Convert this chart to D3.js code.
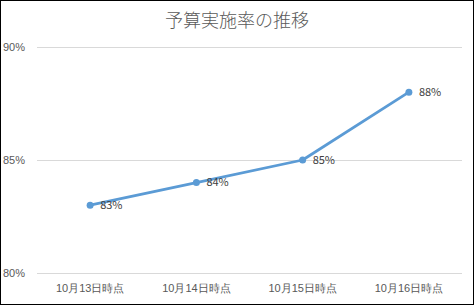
<!DOCTYPE html>
<html><head><meta charset="utf-8">
<script src="https://cdn.jsdelivr.net/npm/d3@7"></script>
<style>
html,body{margin:0;padding:0;background:#fff;}
svg{display:block;font-family:"Noto Sans CJK JP","Noto Sans",sans-serif;}
</style></head>
<body>
<script>
const categories = ["10月13日時点","10月14日時点","10月15日時点","10月16日時点"];
const values = [0.83, 0.84, 0.85, 0.88];
const yTicks = [0.80, 0.85, 0.90];
const title = "予算実施率の推移";

const W = 474, H = 305;
const svg = d3.select("body").append("svg").attr("width", W).attr("height", H);
svg.append("rect").attr("x",0.5).attr("y",0.5).attr("width",W-1).attr("height",H-1)
  .attr("fill","#fff").attr("stroke","#000").attr("stroke-width",1);

const x = d3.scaleBand().domain(categories).range([37, 462]);
const y = d3.scaleLinear().domain([0.80, 0.90]).range([273, 47]);

svg.append("text").attr("x", 237).attr("y", 27).attr("text-anchor","middle")
  .attr("font-size", 18).attr("fill","#595959").attr("font-weight", 300).text(title);

const grid = svg.append("g");
grid.selectAll("line").data(yTicks).join("line")
  .attr("x1", 37).attr("x2", 462)
  .attr("y1", d => Math.round(y(d)) + 0.5).attr("y2", d => Math.round(y(d)) + 0.5)
  .attr("stroke", "#d9d9d9").attr("stroke-width", 1);

const yAxis = d3.axisLeft(y).tickValues(yTicks).tickFormat(d3.format(".0%")).tickSize(0).tickPadding(0);
const ya = svg.append("g").attr("transform","translate(25,0)").call(yAxis);
ya.select(".domain").remove();
ya.selectAll("text").attr("font-size", 11).attr("fill","#595959").attr("font-family","inherit");

const xAxis = d3.axisBottom(x).tickSize(0).tickPadding(0);
const xa = svg.append("g").attr("transform","translate(0,284)").call(xAxis);
xa.select(".domain").remove();
xa.selectAll("text").attr("font-size", 11).attr("fill","#595959").attr("font-family","inherit");

const cx = d => x(d) + x.bandwidth()/2;
const line = d3.line().x((d,i) => cx(categories[i])).y(d => y(d));
svg.append("path").datum(values).attr("d", line).attr("fill","none")
  .attr("stroke","#5B9BD5").attr("stroke-width",2.75).attr("stroke-linejoin","round").attr("stroke-linecap","round");

svg.selectAll("circle.pt").data(values).join("circle").attr("class","pt")
  .attr("cx",(d,i)=>cx(categories[i])).attr("cy", d=>y(d)).attr("r",3.5).attr("fill","#5B9BD5");

svg.selectAll("text.lbl").data(values).join("text").attr("class","lbl")
  .attr("x",(d,i)=>cx(categories[i]) + 10).attr("y", d=>y(d)).attr("dy","0.35em")
  .attr("font-size", 11).attr("fill","#404040").text(d => d3.format(".0%")(d));
</script>
</body></html>
